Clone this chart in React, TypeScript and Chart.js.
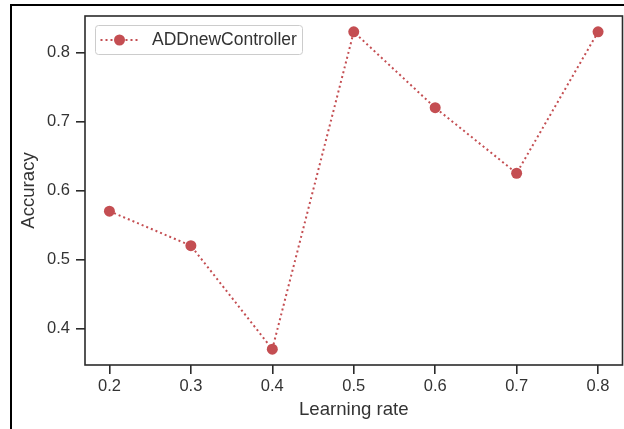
import React, { useEffect, useRef } from "react";
import { Chart, registerables } from "chart.js";

Chart.register(...registerables);

// ---- data ----
const learningRates = [0.2, 0.3, 0.4, 0.5, 0.6, 0.7, 0.8];
const accuracy = [0.57, 0.52, 0.37, 0.83, 0.72, 0.625, 0.83];
const xTickValues = [0.2, 0.3, 0.4, 0.5, 0.6, 0.7, 0.8];
const yTickValues = [0.4, 0.5, 0.6, 0.7, 0.8];
const seriesLabel = "ADDnewController";
const xAxisTitle = "Learning rate";
const yAxisTitle = "Accuracy";
const xRange = [0.17, 0.83];
const yRange = [0.347, 0.853];

const SERIES_COLOR = "#C44E52";
const AXIS_COLOR = "#2b2b2b";
const TEXT_COLOR = "#333333";
const FONT_FAMILY = "'Liberation Sans', Arial, Helvetica, sans-serif";

const framePlugin = {
  id: "spineFrame",
  afterDatasetsDraw(chart: any) {
    const { ctx, chartArea } = chart;
    ctx.save();
    ctx.strokeStyle = AXIS_COLOR;
    ctx.lineWidth = 1.6;
    ctx.strokeRect(
      chartArea.left,
      chartArea.top,
      chartArea.right - chartArea.left,
      chartArea.bottom - chartArea.top
    );
    ctx.restore();
  },
};

const legendPlugin = {
  id: "mplLegend",
  afterDraw(chart: any) {
    const { ctx, chartArea } = chart;
    const ds = chart.data.datasets[0];
    const x0 = chartArea.left + 10.5;
    const y0 = chartArea.top + 9.5;
    const w = 207;
    const h = 29;
    ctx.save();
    ctx.beginPath();
    if (ctx.roundRect) ctx.roundRect(x0, y0, w, h, 3);
    else ctx.rect(x0, y0, w, h);
    ctx.fillStyle = "rgba(255,255,255,0.85)";
    ctx.fill();
    ctx.strokeStyle = "#cccccc";
    ctx.lineWidth = 1;
    ctx.stroke();

    const cy = y0 + h / 2;
    ctx.beginPath();
    ctx.setLineDash(ds.borderDash || []);
    ctx.strokeStyle = ds.borderColor;
    ctx.lineWidth = ds.borderWidth;
    ctx.moveTo(x0 + 5, cy);
    ctx.lineTo(x0 + 42, cy);
    ctx.stroke();
    ctx.setLineDash([]);
    ctx.beginPath();
    ctx.arc(x0 + 24, cy, ds.pointRadius, 0, Math.PI * 2);
    ctx.fillStyle = ds.pointBackgroundColor;
    ctx.fill();
    ctx.fillStyle = TEXT_COLOR;
    ctx.font = `17.5px ${FONT_FAMILY}`;
    ctx.textBaseline = "middle";
    ctx.textAlign = "left";
    ctx.fillText(ds.label, x0 + 56.5, cy + 0.5);
    ctx.restore();
  },
};

export default function App() {
  const canvasRef = useRef<HTMLCanvasElement | null>(null);

  useEffect(() => {
    if (!canvasRef.current) return;
    const chart = new Chart(canvasRef.current, {
      type: "line",
      data: {
        datasets: [
          {
            label: seriesLabel,
            data: learningRates.map((x, i) => ({ x, y: accuracy[i] })),
            borderColor: SERIES_COLOR,
            backgroundColor: SERIES_COLOR,
            borderWidth: 2,
            borderDash: [2, 3],
            borderCapStyle: "butt",
            tension: 0,
            fill: false,
            pointRadius: 5.5,
            pointHoverRadius: 5.5,
            pointBorderWidth: 0,
            pointBackgroundColor: SERIES_COLOR,
            clip: false,
          } as any,
        ],
      },
      options: {
        animation: false,
        responsive: false,
        maintainAspectRatio: false,
        events: [],
        layout: {
          autoPadding: false,
          padding: { left: 0, top: 16, right: 1.5, bottom: 0 },
        },
        font: { family: FONT_FAMILY },
        plugins: {
          legend: { display: false },
          tooltip: { enabled: false },
        },
        scales: {
          x: {
            type: "linear",
            position: "bottom",
            min: xRange[0],
            max: xRange[1],
            border: { display: false },
            grid: {
              display: true,
              drawOnChartArea: false,
              drawTicks: true,
              tickLength: 9,
              tickWidth: 1.6,
              tickColor: AXIS_COLOR,
              lineWidth: 1.6,
              color: AXIS_COLOR,
            },
            ticks: {
              padding: 3,
              color: TEXT_COLOR,
              font: { family: FONT_FAMILY, size: 16.5 },
              maxRotation: 0,
              autoSkip: false,
              callback: (v: any) => Number(v).toFixed(1),
            },
            title: {
              display: true,
              text: xAxisTitle,
              color: TEXT_COLOR,
              font: { family: FONT_FAMILY, size: 18.6 },
              padding: { top: 0, bottom: 8.2 },
            },
            afterBuildTicks: (scale: any) => {
              scale.ticks = xTickValues.map((value) => ({ value }));
            },
            afterFit: (scale: any) => {
              scale.height = 64;
              scale.paddingLeft = 0;
              scale.paddingRight = 0;
            },
          },
          y: {
            type: "linear",
            position: "left",
            min: yRange[0],
            max: yRange[1],
            border: { display: false },
            grid: {
              display: true,
              drawOnChartArea: false,
              drawTicks: true,
              tickLength: 9,
              tickWidth: 1.6,
              tickColor: AXIS_COLOR,
              lineWidth: 1.6,
              color: AXIS_COLOR,
            },
            ticks: {
              padding: 6,
              color: TEXT_COLOR,
              font: { family: FONT_FAMILY, size: 16.5 },
              autoSkip: false,
              callback: (v: any) => Number(v).toFixed(1),
            },
            title: {
              display: true,
              text: yAxisTitle,
              color: TEXT_COLOR,
              font: { family: FONT_FAMILY, size: 18.6 },
              padding: { top: 17.4, bottom: 0 },
            },
            afterBuildTicks: (scale: any) => {
              scale.ticks = yTickValues.map((value) => ({ value }));
            },
            afterFit: (scale: any) => {
              scale.width = 85;
              scale.paddingTop = 0;
              scale.paddingBottom = 0;
            },
          },
        },
      } as any,
      plugins: [framePlugin, legendPlugin],
    });
    return () => chart.destroy();
  }, []);

  return (
    <div
      style={{
        position: "absolute",
        left: 0,
        top: 0,
        width: 624,
        height: 429,
        overflow: "hidden",
        background: "#ffffff",
      }}
    >
      <canvas
        ref={canvasRef}
        width={624}
        height={429}
        style={{ display: "block", width: 624, height: 429 }}
      />
      <div
        style={{
          position: "absolute",
          left: 10,
          top: 4,
          width: 700,
          height: 600,
          borderLeft: "2px solid #000",
          borderTop: "2px solid #000",
          pointerEvents: "none",
        }}
      />
    </div>
  );
}
